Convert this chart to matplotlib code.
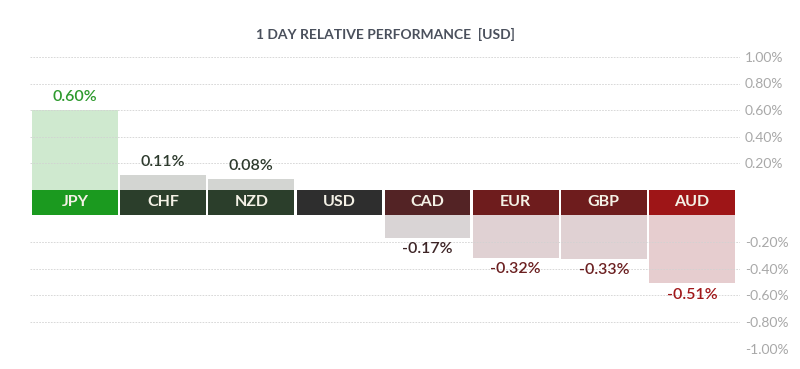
import matplotlib
matplotlib.use("Agg")
import matplotlib.pyplot as plt
import numpy as np

categories = ["JPY", "CHF", "NZD", "USD", "CAD", "EUR", "GBP", "AUD"]
values = [0.60, 0.11, 0.08, 0.00, -0.17, -0.32, -0.33, -0.51]
value_labels = ["0.60%", "0.11%", "0.08%", "", "-0.17%", "-0.32%", "-0.33%", "-0.51%"]
pos_ticks = [0.2, 0.4, 0.6, 0.8, 1.0]
pos_tick_labels = ["0.20%", "0.40%", "0.60%", "0.80%", "1.00%"]
neg_ticks = [-0.2, -0.4, -0.6, -0.8, -1.0]
neg_tick_labels = ["-0.20%", "-0.40%", "-0.60%", "-0.80%", "-1.00%"]
title = "1 DAY RELATIVE PERFORMANCE  [USD]"

band_colors = ["#1b9a1f", "#2b3e2b", "#2b3e2b", "#2e2e2e", "#532325", "#6e1c1d", "#6e1c1d", "#9e1517"]
fill_colors = ["#cfe9cf", "#d3d5d2", "#d3d5d2", "#d8d8d8", "#d9d4d5", "#e0d1d3", "#e0d1d3", "#e6cdcf"]
label_colors = ["#2e9a2e", "#2d3a2d", "#2d3a2d", "#333333", "#3d2426", "#6b1f20", "#6b1f20", "#a0181a"]

plt.rcParams['font.family'] = ['Lato', 'DejaVu Sans']

W, H = 800, 369
fig = plt.figure(figsize=(W / 100, H / 100), dpi=100)

def axes_px(x0, y0, x1, y1):
    return fig.add_axes([x0 / W, 1 - y1 / H, (x1 - x0) / W, (y1 - y0) / H])

left_px, right_px = 30, 740
pitch = (736 - 31) / 8.0
xl = -0.5 - (31 - left_px) / pitch
xr = 7.5 + (right_px - 736) / pitch

ax_top = axes_px(left_px, 57, right_px, 189.5)
ax_band = axes_px(left_px, 189.5, right_px, 215)
ax_bot = axes_px(left_px, 215, right_px, 349)

x = np.arange(len(categories))
bw = 0.972

pos_vals = [v if v > 0 else 0 for v in values]
neg_vals = [v if v < 0 else 0 for v in values]

ax_top.bar(x, pos_vals, width=bw, color=fill_colors, zorder=1)
ax_bot.bar(x, neg_vals, width=bw, color=fill_colors, zorder=1)
ax_band.bar(x, [1] * len(x), width=bw, color=band_colors)

for a in (ax_top, ax_band, ax_bot):
    a.set_xlim(xl, xr)
    for s in a.spines.values():
        s.set_visible(False)
    a.set_xticks([])
    a.patch.set_alpha(0)

ax_top.set_ylim(0, 1.0)
ax_bot.set_ylim(-1.0, 0)
ax_band.set_ylim(0, 1)
ax_band.set_yticks([])

for a, t, tl in ((ax_top, pos_ticks, pos_tick_labels), (ax_bot, neg_ticks, neg_tick_labels)):
    a.yaxis.tick_right()
    a.set_yticks(t)
    a.set_yticklabels(tl)
    a.tick_params(axis='y', length=0, pad=3.5, labelsize=10, labelcolor="#a8a8a8")
    a.grid(axis='y', color="#d2d2d2", linestyle=(0, (2, 1.5)), linewidth=0.6, zorder=3)
    a.set_axisbelow(False)

for i, c in enumerate(categories):
    ax_band.text(x[i], 0.5, c, ha='center', va='center', color="#f4f1e6",
                 fontsize=11.5, fontweight='bold')

for i, v in enumerate(values):
    if not value_labels[i]:
        continue
    if v > 0:
        ax_top.annotate(value_labels[i], (x[i], v), xytext=(0, 4), textcoords='offset points',
                        ha='center', va='bottom', fontsize=11.5, color=label_colors[i],
                        fontweight='semibold')
    else:
        ax_bot.annotate(value_labels[i], (x[i], v), xytext=(0, -3), textcoords='offset points',
                        ha='center', va='top', fontsize=11.5, color=label_colors[i],
                        fontweight='semibold')

fig.text(385 / W, 1 - 34 / H, title, ha='center', va='center', fontsize=10,
         fontweight='bold', color="#4a505c")

fig.savefig("out.png", dpi=100)
